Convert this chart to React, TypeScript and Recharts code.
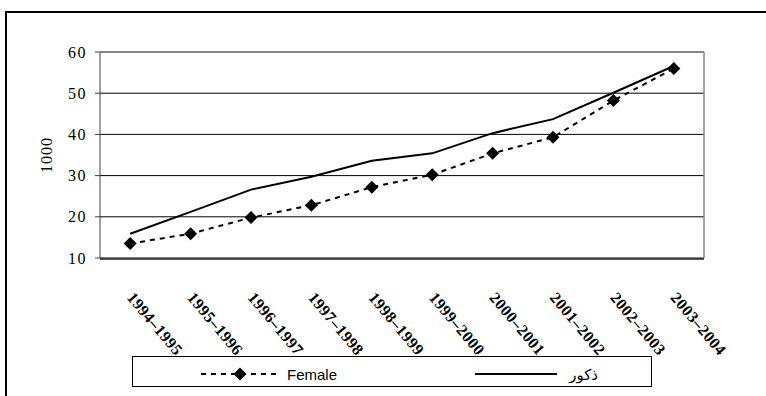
import React from "react";
import {
  CartesianGrid,
  Legend,
  Line,
  LineChart,
  ReferenceLine,
  XAxis,
  YAxis,
} from "recharts";

const seasons = [
  "1994–1995",
  "1995–1996",
  "1996–1997",
  "1997–1998",
  "1998–1999",
  "1999–2000",
  "2000–2001",
  "2001–2002",
  "2002–2003",
  "2003–2004",
];
const female = [13.5, 15.9, 19.8, 22.8, 27.2, 30.2, 35.4, 39.3, 48.2, 56.0];
const male = [15.9, 21.2, 26.6, 29.7, 33.6, 35.4, 40.3, 43.7, 50.1, 56.6];
const yTicks = [10, 20, 30, 40, 50, 60];
const edgeTicks = [0, 1, 2, 3, 4, 5, 6, 7, 8, 9, 10];

// slot = middle of each season's band on the 0..10 edge axis
const data = seasons.map((season, i) => ({
  season,
  slot: i + 0.5,
  female: female[i],
  male: male[i],
}));

const serif = '"Liberation Serif", "Times New Roman", serif';
const sans = '"Liberation Sans", Arial, "DejaVu Sans", sans-serif';

const Diamond = (props: any) => {
  const { cx, cy } = props;
  if (cx == null || cy == null) return null;
  const r = 6.5;
  return (
    <polygon
      points={`${cx},${cy - r} ${cx + r},${cy} ${cx},${cy + r} ${cx - r},${cy}`}
      fill="#000"
    />
  );
};

const SeasonTick = (props: any) => {
  const { x, y, payload } = props;
  const tx = x - 4;
  return (
    <text
      x={tx}
      y={y}
      transform={`rotate(50 ${tx} ${y})`}
      textAnchor="start"
      fontFamily={serif}
      fontSize={16}
      fontWeight="bold"
      letterSpacing={0.5}
      fill="#000"
    >
      {payload.value}
    </text>
  );
};

const LegendBox = () => (
  <div
    style={{
      width: 520,
      height: 31,
      border: "1px solid #000",
      boxSizing: "border-box",
      background: "#fff",
    }}
  >
    <svg width={518} height={29} style={{ display: "block" }}>
      <line x1={68} x2={144} y1={17} y2={17} stroke="#000" strokeWidth={2} strokeDasharray="5 5" />
      <Diamond cx={107} cy={17} />
      <text x={154} y={23} fontFamily={sans} fontSize={15} fill="#000">
        Female
      </text>
      <line x1={342} x2={424} y1={17} y2={17} stroke="#000" strokeWidth={2} />
      <text x={465} y={23} textAnchor="end" fontFamily={sans} fontSize={15} fill="#000">
        ذكور
      </text>
    </svg>
  </div>
);

export default function App() {
  return (
    <div
      style={{
        position: "absolute",
        left: 0,
        top: 0,
        width: 766,
        height: 396,
        overflow: "hidden",
        background: "#fff",
      }}
    >
      <div
        style={{
          position: "absolute",
          left: 5,
          top: 11,
          width: 820,
          height: 440,
          border: "2px solid #000",
        }}
      />
      <div style={{ position: "absolute", left: 0, top: 0 }}>
        <LineChart
          width={766}
          height={396}
          data={data}
          margin={{ top: 52, right: 62, left: 40, bottom: 9 }}
        >
          <CartesianGrid xAxisId="cat" vertical={false} stroke="#000" strokeOpacity={1} />
          {/* season labels sit right under the plot; the edge axis below carries the tick marks */}
          <XAxis
            xAxisId="cat"
            dataKey="season"
            scale="band"
            interval={0}
            axisLine={false}
            tickLine={false}
            tickSize={6}
            tickMargin={34}
            height={1}
            tick={<SeasonTick />}
          />
          <XAxis
            xAxisId="edge"
            dataKey="slot"
            type="number"
            domain={[0, 10]}
            ticks={edgeTicks}
            interval={0}
            allowDataOverflow
            tick={false}
            tickSize={6}
            height={128}
            stroke="#222"
            strokeWidth={1.5}
          />
          <YAxis
            domain={[10, 60]}
            ticks={yTicks}
            interval={0}
            width={60}
            tickSize={5}
            tickMargin={8}
            stroke="#404040"
            tick={{ fill: "#000", fontFamily: serif, fontSize: 16, letterSpacing: 1.5 }}
            label={{
              content: (p: any) => {
                const vb = p.viewBox;
                const cx = vb.x + 6;
                const cy = vb.y + vb.height / 2;
                return (
                  <text
                    x={cx}
                    y={cy}
                    transform={`rotate(-90 ${cx} ${cy})`}
                    textAnchor="middle"
                    dominantBaseline="central"
                    fontFamily={serif}
                    fontSize={16}
                    letterSpacing={1}
                    fill="#000"
                  >
                    1000
                  </text>
                );
              },
            }}
          />
          {/* grey frame on the top and right of the plot */}
          <ReferenceLine xAxisId="cat" y={60} stroke="#888" strokeWidth={1.5} />
          <ReferenceLine xAxisId="edge" x={10} stroke="#888" strokeWidth={1.5} />
          <Legend
            layout="horizontal"
            verticalAlign="middle"
            align="center"
            content={<LegendBox />}
            wrapperStyle={{ left: 132, top: 356, width: 520, height: 31 }}
          />
          <Line
            xAxisId="cat"
            dataKey="male"
            name="ذكور"
            type="linear"
            stroke="#000"
            strokeWidth={2}
            dot={false}
            isAnimationActive={false}
          />
          <Line
            xAxisId="cat"
            dataKey="female"
            name="Female"
            type="linear"
            stroke="#000"
            strokeWidth={2}
            strokeDasharray="5 5"
            dot={<Diamond />}
            isAnimationActive={false}
          />
        </LineChart>
      </div>
    </div>
  );
}
